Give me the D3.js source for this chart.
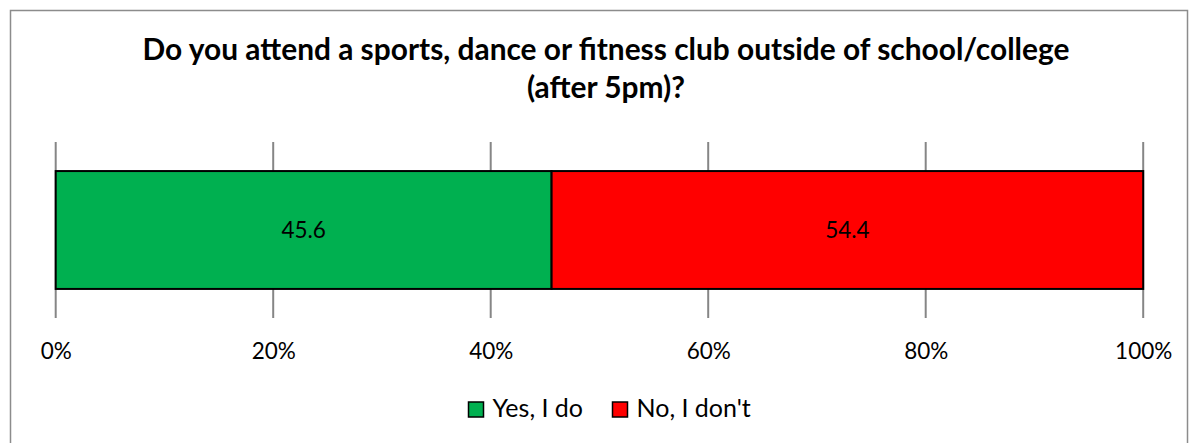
<!DOCTYPE html>
<html><head><meta charset="utf-8">
<script src="https://cdn.jsdelivr.net/npm/d3@7"></script>
<style>body{margin:0;background:#fff}svg{display:block}text{font-family:Lato,"Open Sans",sans-serif}</style>
</head><body><svg id="c" width="1189" height="443"></svg>
<script>
const categories = ["Yes, I do", "No, I don't"];
const values = [45.6, 54.4];
const colors = ["#00b050", "#ff0000"];
const tickValues = [0, 0.2, 0.4, 0.6, 0.8, 1.0];
const titleLines = ["Do you attend a sports, dance or fitness club outside of school/college", "(after 5pm)?"];

(function(){
const svg = d3.select("#c");
svg.append("rect").attr("x",10.5).attr("y",10.5).attr("width",1177).attr("height",440)
  .attr("fill","#fff").attr("stroke","#8c8c8c").attr("stroke-width",1.5);

const title = svg.selectAll("text.title").data(titleLines).join("text").attr("class","title")
  .attr("x",606).attr("y",(d,i)=>60+i*38).attr("text-anchor","middle")
  .attr("font-size",25).attr("font-weight","bold").attr("fill","#000").text(d=>d);
const w0 = title.node().getComputedTextLength();
title.attr("font-size", 25*927/w0);

const x = d3.scaleLinear().domain([0,1]).range([55.7,1143.2]);
const yTop = 142, yBottom = 318;
const g = svg.append("g");
g.selectAll("line.grid").data(tickValues).join("line").attr("class","grid")
  .attr("x1",d=>x(d)).attr("x2",d=>x(d)).attr("y1",yTop).attr("y2",yBottom)
  .attr("stroke","#868686").attr("stroke-width",2);

const total = d3.sum(values);
let cum = 0;
const segs = values.map((v,i)=>{const s={v,i,x0:cum/total,x1:(cum+v)/total};cum+=v;return s;});
const y = d3.scaleBand().domain(["q"]).range([yTop,yBottom]).paddingInner(0).paddingOuter(0.2465);
g.selectAll("rect.bar").data(segs).join("rect").attr("class","bar")
  .attr("x",d=>x(d.x0)).attr("width",d=>x(d.x1)-x(d.x0))
  .attr("y",y("q")).attr("height",y.bandwidth())
  .attr("fill",d=>colors[d.i]).attr("stroke","#000").attr("stroke-width",2);
g.selectAll("text.lbl").data(segs).join("text").attr("class","lbl")
  .attr("x",d=>(x(d.x0)+x(d.x1))/2).attr("y",238)
  .attr("text-anchor","middle").attr("font-size",22.5).attr("fill","#000").text(d=>d.v.toFixed(1));

const axis = d3.axisBottom(x).tickValues(tickValues).tickFormat(d3.format(".0%")).tickSize(0);
const ag = svg.append("g").attr("transform",`translate(0,${yBottom})`).call(axis);
ag.select(".domain").remove();
ag.selectAll("text").attr("font-size",22.5).attr("fill","#000").attr("dy",0).attr("y",41)
  .style("font-family",'Lato,"Open Sans",sans-serif');

const leg = svg.append("g");
const lx = [468.5, 612.5];
categories.forEach((c,i)=>{
  leg.append("rect").attr("x",lx[i]).attr("y",402).attr("width",15).attr("height",15)
    .attr("fill",colors[i]).attr("stroke","#000").attr("stroke-width",1.5);
  leg.append("text").attr("x",lx[i]+24).attr("y",416.5).attr("font-size",25).attr("fill","#000").text(c);
});
})();
</script></body></html>
